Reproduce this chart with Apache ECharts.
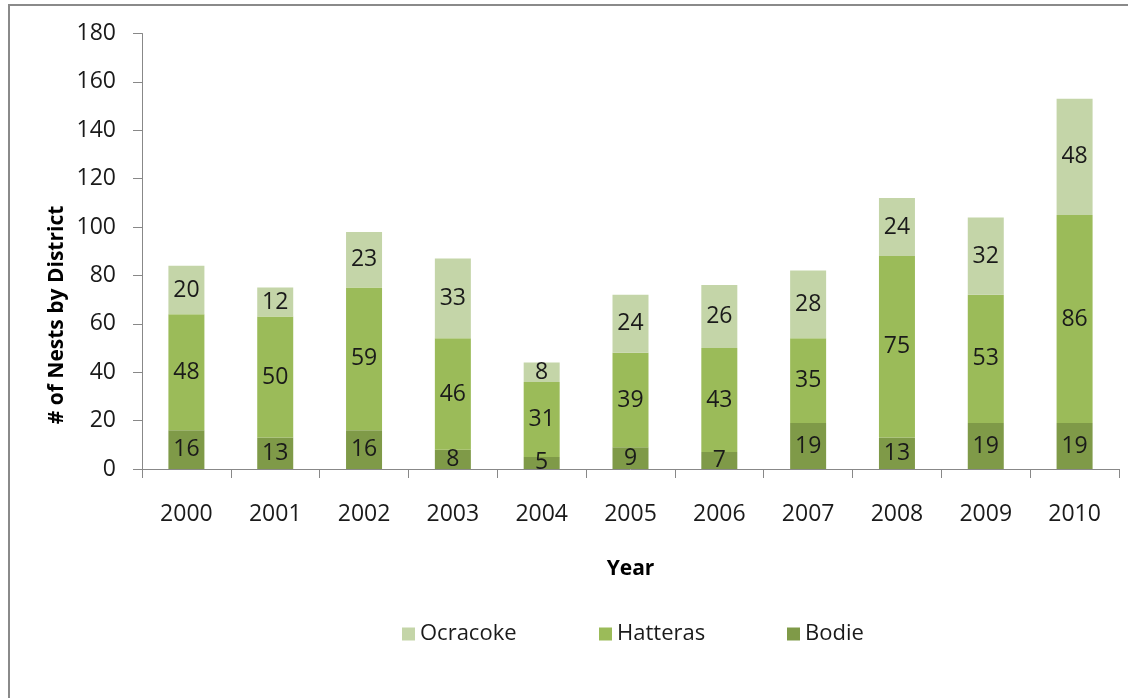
<!DOCTYPE html>
<html>
<head>
<meta charset="utf-8">
<script src="https://cdn.jsdelivr.net/npm/echarts@6/dist/echarts.min.js"></script>
<style>html,body{margin:0;padding:0;background:#fff;}#c{width:1128px;height:698px;}</style>
</head>
<body>
<div id="c"></div>
<script>
const years = ['2000','2001','2002','2003','2004','2005','2006','2007','2008','2009','2010'];
const bodie = [16,13,16,8,5,9,7,19,13,19,19];
const hatteras = [48,50,59,46,31,39,43,35,75,53,86];
const ocracoke = [20,12,23,33,8,24,26,28,24,32,48];
const yTicks = {min:0, max:180, interval:20};

const FONT = '"Open Sans", "Noto Sans", sans-serif';
const chart = echarts.init(document.getElementById('c'), null, {renderer:'canvas'});
const lbl = {show:true, position:'inside', color:'#1a1a1a', fontSize:23, fontFamily:FONT};
function ser(name, data, color){
  return {name, type:'bar', stack:'t', data, barWidth:36,
    itemStyle:{color}, label:lbl, emphasis:{disabled:true}};
}
const legendBase = {top:618, itemWidth:13, itemHeight:13, icon:'rect', itemGap:8,
  textStyle:{fontSize:22, fontFamily:FONT, color:'#1a1a1a'}};
chart.setOption({
  animation:false,
  grid:{left:142, right:9, top:33.5, bottom:229, containLabel:false},
  legend:[
    Object.assign({data:['Ocracoke'], left:397}, legendBase),
    Object.assign({data:['Hatteras'], left:594}, legendBase),
    Object.assign({data:['Bodie'], left:782}, legendBase)
  ],
  xAxis:{type:'category', data:years,
    name:'Year', nameLocation:'middle', nameGap:90,
    nameTextStyle:{fontSize:21, fontWeight:'bold', fontFamily:FONT, color:'#000'},
    axisLine:{lineStyle:{color:'#888', width:1}},
    axisTick:{show:true, length:9, lineStyle:{color:'#888'}},
    axisLabel:{fontSize:23, fontFamily:FONT, color:'#1a1a1a', margin:34}},
  yAxis:{type:'value', min:yTicks.min, max:yTicks.max, interval:yTicks.interval,
    axisLine:{show:true, lineStyle:{color:'#888', width:1}},
    axisTick:{show:true, length:9, lineStyle:{color:'#888'}},
    splitLine:{show:false},
    axisLabel:{fontSize:23, fontFamily:FONT, color:'#1a1a1a', margin:26}},
  graphic:[
    {type:'line', shape:{x1:9, y1:5, x2:9, y2:698}, style:{stroke:'#8a8a8a', lineWidth:2}},
    {type:'line', shape:{x1:8, y1:5, x2:1128, y2:5}, style:{stroke:'#8a8a8a', lineWidth:2}},
    {type:'text', x:57, y:315, rotation:Math.PI/2,
      style:{text:'# of Nests by District', font:'bold 21px "Open Sans", sans-serif',
        fill:'#000', textAlign:'center', textVerticalAlign:'middle'}}
  ],
  series:[
    ser('Bodie', bodie, '#7f9a48'),
    ser('Hatteras', hatteras, '#9bbb59'),
    ser('Ocracoke', ocracoke, '#c4d5a8')
  ]
});
</script>
</body>
</html>
